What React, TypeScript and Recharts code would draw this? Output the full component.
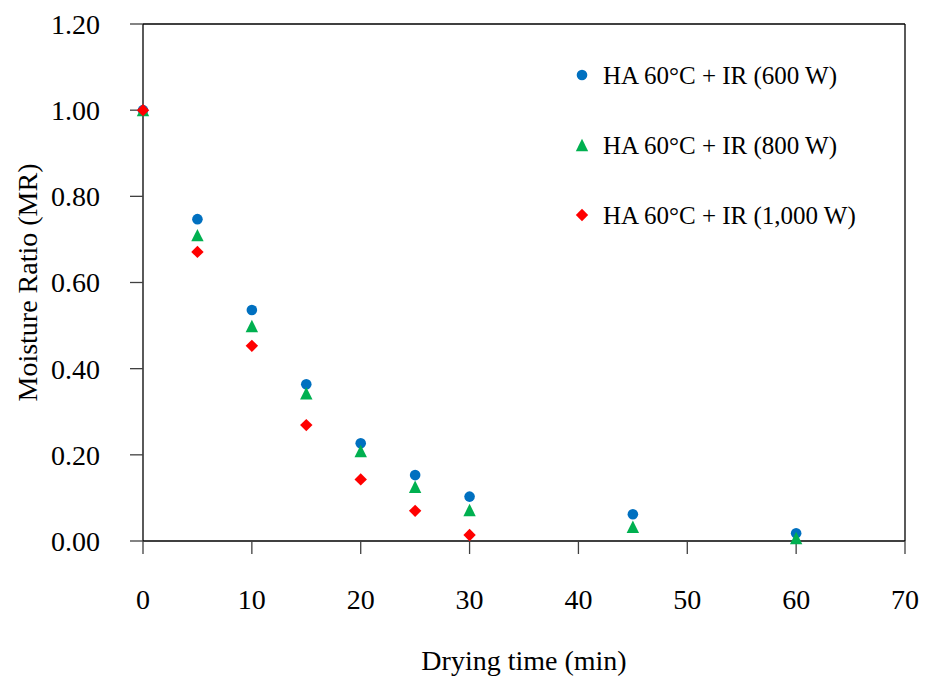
import { ScatterChart, Scatter, XAxis, YAxis, ReferenceLine, Legend } from "recharts";

const times600 = [0, 5, 10, 15, 20, 25, 30, 45, 60];
const mr600 = [1.0, 0.747, 0.536, 0.364, 0.227, 0.153, 0.103, 0.062, 0.018];
const times800 = [0, 5, 10, 15, 20, 25, 30, 45, 60];
const mr800 = [1.0, 0.71, 0.499, 0.343, 0.209, 0.126, 0.072, 0.033, 0.007];
const times1000 = [0, 5, 10, 15, 20, 25, 30];
const mr1000 = [1.0, 0.671, 0.453, 0.269, 0.143, 0.07, 0.014];

const xTicks = [0, 10, 20, 30, 40, 50, 60, 70];
const yTicks = [0, 0.2, 0.4, 0.6, 0.8, 1.0, 1.2];

const FONT = '"Liberation Serif", "Times New Roman", serif';

const toPoints = (xs: number[], ys: number[]) => xs.map((t, i) => ({ t, mr: ys[i] }));

const CircleMark = (p: any) => <circle cx={p.cx} cy={p.cy} r={5.3} fill={p.fill} />;
const TriangleMark = (p: any) => (
  <polygon
    points={`${p.cx},${p.cy - 6.2} ${p.cx + 6.2},${p.cy + 6.2} ${p.cx - 6.2},${p.cy + 6.2}`}
    fill={p.fill}
  />
);
const DiamondMark = (p: any) => (
  <polygon
    points={`${p.cx},${p.cy - 6.2} ${p.cx + 6.2},${p.cy} ${p.cx},${p.cy + 6.2} ${p.cx - 6.2},${p.cy}`}
    fill={p.fill}
  />
);

const series = [
  { name: "HA 60°C + IR (600 W)", color: "#0070C0", data: toPoints(times600, mr600), shape: CircleMark },
  { name: "HA 60°C + IR (800 W)", color: "#00B050", data: toPoints(times800, mr800), shape: TriangleMark },
  { name: "HA 60°C + IR (1,000 W)", color: "#FF0000", data: toPoints(times1000, mr1000), shape: DiamondMark },
];

const LegendBox = () => (
  <svg width={320} height={200} style={{ overflow: "visible" }}>
    {series.map((s, i) => {
      const Mark = s.shape;
      const cy = 20 + i * 70;
      return (
        <g key={s.name}>
          <Mark cx={12} cy={cy} fill={s.color} />
          <text x={33} y={cy} dy="0.35em" fontFamily={FONT} fontSize={25} fill="#000">
            {s.name}
          </text>
        </g>
      );
    })}
  </svg>
);

export default function App() {
  return (
    <div style={{ position: "absolute", left: 0, top: 0 }}>
      <ScatterChart width={925} height={679} margin={{ top: 24, right: 20, left: 0, bottom: 0 }}>
        <XAxis
          type="number"
          dataKey="t"
          domain={[0, 70]}
          ticks={xTicks}
          height={138}
          tickSize={13}
          tickMargin={35}
          axisLine={{ stroke: "#000", strokeWidth: 1.3 }}
          tickLine={{ stroke: "#404040", strokeWidth: 1.3 }}
          tick={{ fill: "#000", fontFamily: FONT, fontSize: 28 }}
          label={{ value: "Drying time (min)", position: "insideBottom", offset: 9, fill: "#000", fontFamily: FONT, fontSize: 28 }}
        />
        <YAxis
          type="number"
          dataKey="mr"
          domain={[0, 1.2]}
          ticks={yTicks}
          width={143}
          tickSize={13}
          tickMargin={30}
          tickFormatter={(v: number) => v.toFixed(2)}
          axisLine={{ stroke: "#000", strokeWidth: 1.3 }}
          tickLine={{ stroke: "#404040", strokeWidth: 1.3 }}
          tick={{ fill: "#000", fontFamily: FONT, fontSize: 28 }}
          label={{
            value: "Moisture Ratio (MR)",
            angle: -90,
            position: "insideLeft",
            offset: 27,
            style: { textAnchor: "middle" },
            fill: "#000",
            fontFamily: FONT,
            fontSize: 28,
          }}
        />
        <ReferenceLine y={1.2} stroke="#000" strokeWidth={1.3} />
        <ReferenceLine x={70} stroke="#000" strokeWidth={1.3} />
        {series.map((s) => (
          <Scatter
            key={s.name}
            name={s.name}
            data={s.data}
            fill={s.color}
            shape={s.shape}
            isAnimationActive={false}
          />
        ))}
        <Legend
          layout="horizontal"
          verticalAlign="middle"
          align="center"
          content={() => <LegendBox />}
          wrapperStyle={{ position: "absolute", left: 570, top: 55, width: 320, height: 200 }}
        />
      </ScatterChart>
    </div>
  );
}
